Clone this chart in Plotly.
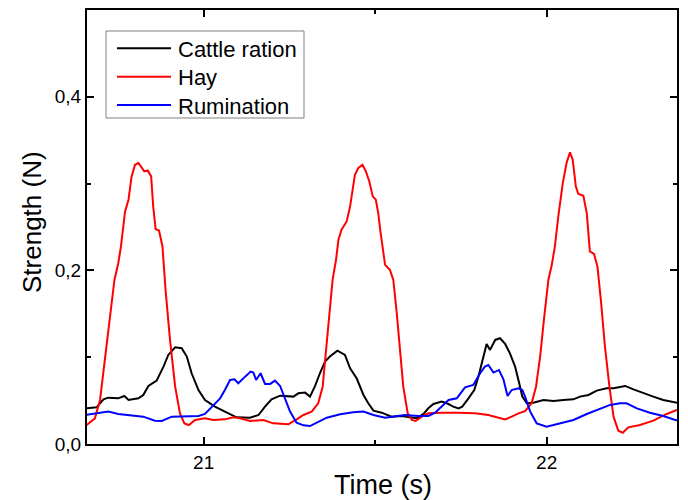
import plotly.graph_objects as go

# Cattle ration (black)
cattle_t = [20.654, 20.688, 20.708, 20.722, 20.751, 20.769, 20.781, 20.810, 20.824, 20.839,
            20.863, 20.883, 20.897, 20.917, 20.936, 20.951, 20.965, 20.985, 21.004, 21.033,
            21.062, 21.087, 21.096, 21.135, 21.160, 21.179, 21.198, 21.223, 21.242, 21.262,
            21.276, 21.296, 21.310, 21.325, 21.339, 21.354, 21.368, 21.390, 21.412, 21.427,
            21.446, 21.466, 21.480, 21.495, 21.519, 21.548, 21.577, 21.602, 21.621, 21.641,
            21.655, 21.670, 21.694, 21.709, 21.728, 21.743, 21.754, 21.772, 21.789, 21.801,
            21.813, 21.825, 21.835, 21.850, 21.864, 21.879, 21.893, 21.908, 21.920, 21.929,
            21.942, 21.961, 21.991, 22.020, 22.049, 22.078, 22.097, 22.122, 22.146, 22.175,
            22.195, 22.229, 22.253, 22.282, 22.311, 22.340, 22.360, 22.380]
cattle_v = [0.041, 0.0422, 0.0515, 0.0534, 0.0526, 0.0553, 0.0507, 0.0526, 0.0565, 0.0669,
            0.0730, 0.0892, 0.1026, 0.1115, 0.1103, 0.1007, 0.0815, 0.0622, 0.0507, 0.043,
            0.0372, 0.0330, 0.0307, 0.0303, 0.0334, 0.043, 0.0515, 0.0557, 0.0553, 0.0546,
            0.0584, 0.0592, 0.0546, 0.0669, 0.0815, 0.0949, 0.1007, 0.1076, 0.1026, 0.0872,
            0.0757, 0.0565, 0.0469, 0.0384, 0.0361, 0.0315, 0.0323, 0.0307, 0.0296, 0.0346,
            0.0411, 0.0461, 0.0488, 0.0469, 0.043, 0.0411, 0.043, 0.0526, 0.0622, 0.0776,
            0.0969, 0.1153, 0.1084, 0.1199, 0.1218, 0.1153, 0.1045, 0.0892, 0.0699, 0.0546,
            0.0469, 0.0476, 0.0507, 0.0496, 0.0507, 0.0515, 0.0546, 0.0565, 0.0615, 0.0642,
            0.0642, 0.0669, 0.063, 0.0584, 0.0546, 0.0507, 0.0488, 0.0476]

# Hay (red)
hay_t = [20.659, 20.683, 20.698, 20.713, 20.727, 20.740, 20.751, 20.759, 20.771, 20.781,
         20.790, 20.800, 20.810, 20.820, 20.827, 20.837, 20.847, 20.853, 20.860, 20.870,
         20.880, 20.889, 20.902, 20.917, 20.931, 20.944, 20.957, 20.975, 21.004, 21.028,
         21.062, 21.087, 21.106, 21.135, 21.174, 21.203, 21.247, 21.271, 21.291, 21.315,
         21.334, 21.347, 21.357, 21.366, 21.376, 21.386, 21.393, 21.402, 21.417, 21.427,
         21.441, 21.451, 21.463, 21.473, 21.483, 21.493, 21.502, 21.509, 21.516, 21.529,
         21.543, 21.553, 21.563, 21.573, 21.582, 21.595, 21.607, 21.618, 21.636, 21.655,
         21.694, 21.743, 21.791, 21.830, 21.859, 21.879, 21.898, 21.918, 21.937, 21.956,
         21.969, 21.981, 21.992, 22.005, 22.015, 22.024, 22.034, 22.047, 22.058, 22.068,
         22.076, 22.085, 22.092, 22.107, 22.117, 22.126, 22.138, 22.148, 22.158, 22.170,
         22.183, 22.195, 22.209, 22.222, 22.238, 22.272, 22.311, 22.350, 22.380]
hay_v = [0.0219, 0.0296, 0.0507, 0.1007, 0.147, 0.189, 0.208, 0.2276, 0.268, 0.2814,
         0.3083, 0.3218, 0.3237, 0.318, 0.3141, 0.3152, 0.3083, 0.2737, 0.2476, 0.246,
         0.2276, 0.1776, 0.1199, 0.066, 0.0353, 0.0238, 0.0219, 0.0277, 0.0296, 0.0277,
         0.0284, 0.0307, 0.0296, 0.0265, 0.0277, 0.0238, 0.0227, 0.0284, 0.0334, 0.0373,
         0.0469, 0.066, 0.1045, 0.1468, 0.189, 0.2122, 0.2353, 0.2468, 0.2564, 0.2737,
         0.3102, 0.318, 0.3218, 0.3141, 0.3025, 0.2853, 0.2814, 0.266, 0.2429, 0.2064,
         0.2007, 0.189, 0.1507, 0.1045, 0.066, 0.0353, 0.0277, 0.0265, 0.0315, 0.0353,
         0.0361, 0.0361, 0.0353, 0.0334, 0.0303, 0.0284, 0.0315, 0.0353, 0.0378, 0.0469,
         0.066, 0.1007, 0.143, 0.189, 0.2064, 0.2276, 0.2622, 0.3006, 0.3237, 0.336,
         0.3275, 0.2968, 0.2883, 0.286, 0.266, 0.2218, 0.2191, 0.2045, 0.166, 0.1122,
         0.066, 0.0315, 0.0153, 0.013, 0.0192, 0.0219, 0.0269, 0.0346, 0.0392]

# Rumination (blue)
rum_t = [20.654, 20.693, 20.722, 20.751, 20.790, 20.824, 20.858, 20.878, 20.907, 20.946,
         20.985, 21.004, 21.024, 21.048, 21.062, 21.077, 21.090, 21.101, 21.121, 21.137,
         21.145, 21.153, 21.166, 21.179, 21.194, 21.208, 21.223, 21.237, 21.252, 21.271,
         21.291, 21.310, 21.330, 21.359, 21.398, 21.436, 21.466, 21.495, 21.529, 21.558,
         21.587, 21.626, 21.655, 21.675, 21.694, 21.714, 21.738, 21.762, 21.786, 21.806,
         21.820, 21.830, 21.845, 21.861, 21.874, 21.886, 21.898, 21.918, 21.929, 21.937,
         21.952, 21.971, 22.000, 22.039, 22.078, 22.117, 22.156, 22.185, 22.214, 22.233,
         22.263, 22.301, 22.340, 22.380]
rum_v = [0.0334, 0.0361, 0.0373, 0.0346, 0.0334, 0.0315, 0.0269, 0.0265, 0.0315, 0.0323,
         0.0323, 0.0346, 0.043, 0.0526, 0.0622, 0.0738, 0.0746, 0.07, 0.0776, 0.0834,
         0.0823, 0.0738, 0.0815, 0.0692, 0.0692, 0.073, 0.0669, 0.0526, 0.0373, 0.0246,
         0.0215, 0.0207, 0.0246, 0.0303, 0.0342, 0.0365, 0.0373, 0.0334, 0.0303, 0.0315,
         0.0334, 0.0323, 0.0323, 0.0361, 0.043, 0.0507, 0.0526, 0.0653, 0.068, 0.0815,
         0.0892, 0.0911, 0.0823, 0.0853, 0.0746, 0.0553, 0.0622, 0.0642, 0.0622, 0.0546,
         0.0373, 0.0238, 0.020, 0.0238, 0.0277, 0.0346, 0.0411, 0.045, 0.0469, 0.0469,
         0.0411, 0.0361, 0.0323, 0.0269]

series_names = ["Cattle ration", "Hay", "Rumination"]
series_colors = ["black", "#ff0000", "#0000ff"]

x_tickvals = [21, 22]
x_ticktext = ["21", "22"]
y_tickvals = [0.0, 0.2, 0.4]
y_ticktext = ["0,0", "0,2", "0,4"]

FONT = "Liberation Sans, Arial, sans-serif"
OFF = 8  # page body margin
W, H = 680, 492
# plot area in window pixels: x 87..677, y 10..444
ML, MR, MT, MB = 87 - OFF, W - (677 - OFF), 10 - OFF, H - (444 - OFF)
PW, PH = W - ML - MR, H - MT - MB


def px_to_paper(xw, yw):
    xp, yp = xw - OFF, yw - OFF
    return (xp - ML) / PW, (H - MB - yp) / PH


fig = go.Figure()
for t, v, name, col in zip([cattle_t, hay_t, rum_t], [cattle_v, hay_v, rum_v],
                           series_names, series_colors):
    fig.add_trace(go.Scatter(x=t, y=v, mode="lines", name=name,
                             line=dict(color=col, width=2), showlegend=False))

axis_common = dict(showline=True, linecolor="black", linewidth=2, mirror="ticks",
                   ticks="inside", ticklen=7, tickwidth=1.5, tickcolor="black",
                   showgrid=False, zeroline=False, automargin=False,
                   tickfont=dict(family=FONT, size=19, color="black"))

fig.update_xaxes(range=[20.66, 22.38], tickvals=x_tickvals, ticktext=x_ticktext,
                 minor=dict(ticks="inside", tickvals=[21.5], ticklen=4, tickcolor="black", tickwidth=1.5),
                 **axis_common)
fig.update_yaxes(range=[0, 0.5], tickvals=y_tickvals, ticktext=y_ticktext,
                 minor=dict(ticks="inside", tickvals=[0.1, 0.3], ticklen=4, tickcolor="black", tickwidth=1.5),
                 **axis_common)

annotations = []
shapes = []
# Axis titles
ax_x, ax_y = px_to_paper(383, 485)
annotations.append(dict(text="Time (s)", xref="paper", yref="paper", x=ax_x, y=ax_y,
                        xanchor="center", yanchor="middle", showarrow=False,
                        font=dict(family=FONT, size=27, color="black")))
ay_x, ay_y = px_to_paper(32, 222)
annotations.append(dict(text="Strength (N)", xref="paper", yref="paper", x=ay_x, y=ay_y,
                        xanchor="center", yanchor="middle", showarrow=False, textangle=-90,
                        font=dict(family=FONT, size=26, color="black")))

# Legend box
bx0, by0 = px_to_paper(106, 31)
bx1, by1 = px_to_paper(304, 118)
shapes.append(dict(type="rect", xref="paper", yref="paper", x0=bx0, x1=bx1, y0=by1, y1=by0,
                   line=dict(color="#808080", width=1), fillcolor="white", layer="above"))
row_y = [48.3, 76.7, 105]
for name, col, ry in zip(series_names, series_colors, row_y):
    lx0, ly = px_to_paper(117, ry)
    lx1, _ = px_to_paper(171, ry)
    shapes.append(dict(type="line", xref="paper", yref="paper", x0=lx0, x1=lx1, y0=ly, y1=ly,
                       line=dict(color=col, width=2), layer="above"))
    tx, ty = px_to_paper(176, ry + 1)
    annotations.append(dict(text=name, xref="paper", yref="paper", x=tx, y=ty,
                            xanchor="left", yanchor="middle", showarrow=False,
                            font=dict(family=FONT, size=22, color="black")))

fig.update_layout(
    width=W, height=H,
    margin=dict(l=ML, r=MR, t=MT, b=MB),
    paper_bgcolor="white", plot_bgcolor="white",
    font=dict(family=FONT, color="black"),
    showlegend=False,
    annotations=annotations, shapes=shapes,
)

fig.write_html("out.html")
